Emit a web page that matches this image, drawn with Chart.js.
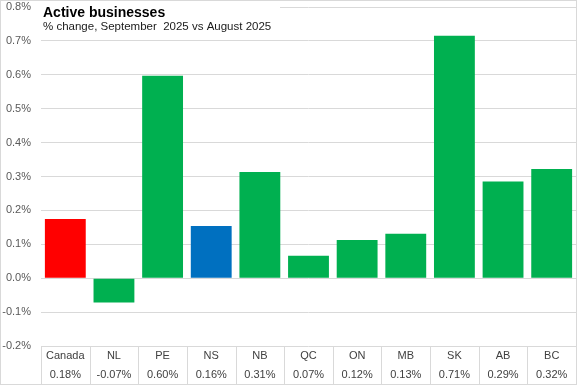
<!DOCTYPE html>
<html><head><meta charset="utf-8">
<script src="https://cdn.jsdelivr.net/npm/chart.js@4.4.0/dist/chart.umd.min.js"></script>
<style>html,body{margin:0;padding:0;background:#fff}#wrap{width:577px;height:385px;position:relative}</style>
</head><body><div id="wrap"><canvas id="c" width="577" height="385"></canvas></div>
<script>
const categories = ["Canada","NL","PE","NS","NB","QC","ON","MB","SK","AB","BC"];
const values = [0.175, -0.072, 0.597, 0.154, 0.313, 0.066, 0.113, 0.131, 0.715, 0.285, 0.322];
const valueLabels = ["0.18%","-0.07%","0.60%","0.16%","0.31%","0.07%","0.12%","0.13%","0.71%","0.29%","0.32%"];
const barColors = ["#ff0000","#00b050","#00b050","#0070c0","#00b050","#00b050","#00b050","#00b050","#00b050","#00b050","#00b050"];
const titleText = "Active businesses";
const subtitleText = "% change, September  2025 vs August 2025";

const overlay = {
  id:'overlay',
  afterDraw(chart){
    const ctx = chart.ctx, x = chart.scales.x, a = chart.chartArea;
    ctx.save();
    const top = a.bottom, bottom = 384.5;
    ctx.strokeStyle = '#d9d9d9'; ctx.lineWidth = 1;
    const n = categories.length;
    const half = (x.getPixelForValue(1) - x.getPixelForValue(0))/2;
    for (let i=0;i<=n;i++){
      const px = Math.round((i<n ? x.getPixelForValue(i)-half : x.getPixelForValue(n-1)+half)) + 0.5;
      ctx.beginPath(); ctx.moveTo(px, top); ctx.lineTo(px, bottom); ctx.stroke();
    }
    ctx.fillStyle = '#404040';
    ctx.textAlign='center'; ctx.textBaseline='middle';
    ctx.font = '11px "Liberation Sans", Arial, sans-serif';
    for (let i=0;i<n;i++){
      const cx = x.getPixelForValue(i);
      ctx.fillText(categories[i], cx, 356);
      ctx.fillText(valueLabels[i], cx, 374.5);
    }
    ctx.fillStyle='#fff'; ctx.fillRect(40, 2, 240, 32);
    ctx.fillStyle='#000'; ctx.textAlign='left'; ctx.textBaseline='alphabetic';
    ctx.font = 'bold 14px "Liberation Sans", Arial, sans-serif';
    ctx.fillText(titleText, 43, 17);
    ctx.font = '11.5px "Liberation Sans", Arial, sans-serif';
    ctx.fillStyle='#1a1a1a';
    ctx.fillText(subtitleText, 43, 30);
    ctx.strokeStyle='#d9d9d9';
    ctx.strokeRect(0.5,0.5,576,384);
    ctx.restore();
  }
};

new Chart(document.getElementById('c'), {
  type:'bar',
  data:{labels:categories, datasets:[{data:values, backgroundColor:barColors, barPercentage:0.84, categoryPercentage:1}]},
  options:{
    responsive:false, animation:false,
    layout:{padding:{top:7, right:1, bottom:39, left:0}},
    plugins:{legend:{display:false}, tooltip:{enabled:false}},
    scales:{
      x:{display:false},
      y:{min:-0.2, max:0.8,
        afterFit(s){ s.width = 41; s.paddingTop = 0; s.paddingBottom = 0; },
        border:{display:false},
        grid:{color:'#d9d9d9', drawTicks:false},
        ticks:{stepSize:0.1, padding:10, color:'#595959', font:{family:'"Liberation Sans", Arial, sans-serif', size:11},
          callback:(v)=> (Math.round(v*10)/10).toFixed(1)+'%'}
      }
    }
  },
  plugins:[overlay]
});
</script></body></html>
